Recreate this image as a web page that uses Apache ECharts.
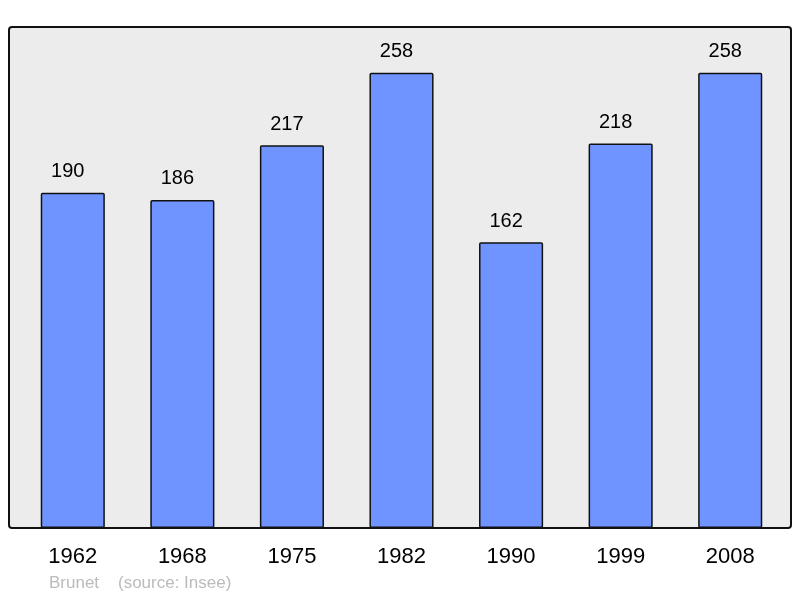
<!DOCTYPE html>
<html>
<head>
<meta charset="utf-8">
<script src="https://cdn.jsdelivr.net/npm/echarts@6/dist/echarts.min.js"></script>
<style>
  html, body { margin: 0; padding: 0; background: #fff; }
  #chart { width: 800px; height: 598px; }
</style>
</head>
<body>
<div id="chart"></div>
<script>
const years = ['1962', '1968', '1975', '1982', '1990', '1999', '2008']
const population = [190, 186, 217, 258, 162, 218, 258]
const footerText = 'Brunet    (source: Insee)'

const chart = echarts.init(document.getElementById('chart'))

const option = {
  animation: false,
  backgroundColor: '#fff',
  textStyle: { fontFamily: 'Liberation Sans, Arial, sans-serif' },
  graphic: [
    {
      // plot frame
      type: 'rect',
      z: -1,
      shape: { x: 9, y: 27, width: 782, height: 501, r: 3 },
      style: { fill: '#ececec', stroke: '#111', lineWidth: 2 }
    },
    {
      type: 'text',
      left: 49,
      top: 575,
      style: { text: footerText, fill: '#bbb', font: '17px Liberation Sans, Arial, sans-serif' }
    }
  ],
  grid: {
    left: 18,
    right: 15,
    top: 27,
    bottom: 70
  },
  xAxis: {
    type: 'category',
    data: years,
    axisLine: { show: false },
    axisTick: { show: false },
    axisLabel: {
      color: '#000',
      fontSize: 22,
      margin: 18
    }
  },
  yAxis: {
    type: 'value',
    min: 0,
    max: 284,
    show: false,
    splitLine: { show: false }
  },
  series: [{
    type: 'bar',
    data: population,
    barWidth: '58.5%',
    itemStyle: {
      color: '#7094ff',
      borderColor: '#111',
      borderWidth: 1.5,
      borderRadius: 1
    },
    label: {
      show: true,
      position: 'top',
      distance: 11,
      offset: [-5, 0],
      color: '#000',
      fontSize: 20
    }
  }]
}

chart.setOption(option)
</script>
</body>
</html>
